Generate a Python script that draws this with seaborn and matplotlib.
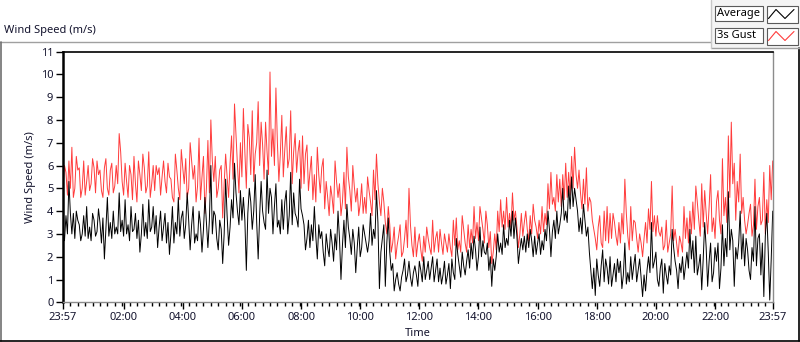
import numpy as np
import pandas as pd
import matplotlib
matplotlib.use('Agg')
import matplotlib.pyplot as plt
from matplotlib.lines import Line2D
from matplotlib.patches import Rectangle
import seaborn as sns


# =============================================================================
# Data
#   *_speed     : readings every 6 min from 23:57
#   *_speed_mid : readings taken 3 min after each of those
# =============================================================================
start_time = '2015-01-01 23:57'
step_min = 6

avg_speed = [
    3.2, 3.8, 5.3, 3.0, 2.8, 3.6, 2.7, 3.8, 4.2, 3.3, 3.9, 2.9, 4.1, 2.6, 1.9, 4.6,
    3.5, 4.0, 3.3, 4.8, 3.6, 4.5, 3.4, 4.2, 3.2, 2.8, 2.2, 4.3, 3.5, 4.5, 3.3,
    3.0, 2.4, 4.0, 3.3, 2.6, 2.1, 4.2, 3.5, 4.6, 3.7, 2.8, 4.8, 2.3, 4.2, 3.0,
    4.0, 2.2, 4.6, 2.4, 6.0, 4.0, 2.8, 3.6, 1.7, 5.4, 2.5, 4.5, 6.1, 4.0, 4.9,
    4.6, 1.4, 5.0, 3.2, 5.6, 1.9, 5.3, 3.5, 5.8, 5.0, 3.0, 5.2, 3.6, 4.5, 4.4, 3.0,
    5.7, 4.8, 3.7, 5.4, 3.8, 2.3, 3.6, 3.4, 4.2, 1.9, 2.8, 2.2, 3.0, 2.0, 2.6,
    3.0, 4.0, 1.0, 3.6, 4.3, 2.8, 3.2, 1.3, 3.3, 2.4, 3.0, 2.2, 3.9, 3.2, 4.9,
    0.6, 2.8, 0.7, 3.7, 1.4, 0.5, 1.3, 0.5, 1.4, 0.9, 1.8, 0.7, 1.6, 0.7, 1.4,
    2.0, 1.4, 1.0, 2.0, 1.4, 0.9, 0.8, 1.8, 1.2, 0.6, 1.3, 2.8, 1.6, 2.2, 1.2, 2.3,
    2.6, 2.9, 1.4, 3.3, 2.7, 2.1, 1.4, 0.7, 1.4, 3.0, 2.6, 3.4, 2.8, 3.6, 4.0,
    3.7, 1.7, 2.8, 2.9, 3.0, 3.2, 2.0, 2.1, 3.0, 2.7, 3.2, 4.0, 2.0, 3.6, 4.0,
    3.4, 5.0, 4.0, 5.1, 5.5, 5.0, 4.0, 3.7, 4.3, 2.9, 2.2, 0.6, 0.3, 1.2, 1.6,
    0.9, 1.5, 2.0, 1.2, 0.9, 1.3, 0.6, 2.6, 1.3, 2.0, 1.6, 0.9, 1.9, 0.25, 0.5, 2.0,
    3.5, 1.8, 1.0, 1.5, 0.4, 1.2, 1.6, 3.2, 1.8, 0.6, 1.3, 1.0, 2.2, 3.2, 2.7,
    2.9, 1.6, 0.55, 3.5, 0.7, 2.6, 1.3, 1.8, 0.6, 3.4, 2.8, 4.85, 3.2, 0.7, 1.9,
    4.0, 3.0, 2.8, 1.4, 2.4, 4.2, 2.8, 1.2, 0.25, 3.9, 0.1, 4.0,
]
avg_speed_mid = [
    2.7, 3.0, 3.9, 3.9, 4.0, 3.4, 3.0, 2.9, 2.8, 2.7, 3.6, 3.1, 3.5, 3.7, 3.2, 2.9,
    2.8, 3.0, 3.0, 3.1, 2.9, 3.0, 2.7, 3.1, 3.9, 3.6, 3.0, 2.9, 2.8, 3.1, 4.2,
    3.8, 3.3, 2.7, 3.9, 3.5, 3.0, 2.6, 3.0, 2.9, 4.0, 3.4, 3.6, 3.4, 2.6, 2.7,
    3.4, 3.2, 3.5, 3.6, 3.0, 3.8, 2.3, 3.2, 3.0, 3.8, 3.3, 3.7, 4.8, 3.4, 3.6,
    3.6, 3.9, 4.4, 4.0, 3.5, 3.8, 4.0, 3.2, 3.9, 4.6, 4.2, 3.3, 3.0, 3.2, 4.9, 3.8,
    3.4, 3.9, 3.3, 4.1, 3.4, 2.8, 2.4, 2.7, 2.9, 3.4, 3.1, 1.6, 2.4, 3.2, 1.8,
    2.3, 2.8, 2.5, 2.4, 3.3, 2.1, 2.6, 2.4, 2.0, 3.4, 2.6, 2.7, 2.5, 2.8, 3.5,
    2.2, 3.4, 2.6, 2.2, 1.7, 1.0, 0.8, 1.1, 1.9, 1.2, 1.1, 1.3, 1.2, 1.8, 0.9,
    1.0, 1.8, 1.5, 0.9, 1.9, 1.5, 1.2, 0.8, 1.7, 1.9, 1.0, 2.1, 1.1, 1.6, 1.8, 1.5,
    1.9, 2.3, 2.0, 2.0, 2.2, 2.6, 2.0, 1.9, 2.0, 2.2, 2.1, 2.4, 2.5, 2.9, 2.8,
    2.9, 2.3, 2.3, 2.2, 2.4, 2.7, 2.9, 2.6, 2.1, 2.3, 2.7, 3.2, 3.1, 2.8, 3.0,
    3.9, 3.6, 3.5, 4.1, 4.2, 4.5, 3.1, 3.0, 3.6, 3.3, 1.4, 1.5, 1.9, 0.7, 2.3,
    1.9, 0.8, 0.7, 1.7, 1.9, 1.8, 1.2, 0.8, 0.9, 1.0, 2.1, 1.4, 1.1, 1.2, 1.4, 1.3,
    1.5, 2.2, 0.7, 1.9, 1.7, 0.8, 1.2, 2.4, 1.4, 1.7, 2.0, 1.6, 1.5, 1.9, 1.3,
    1.2, 2.1, 1.9, 2.4, 1.8, 0.9, 2.4, 2.6, 1.5, 1.6, 2.0, 2.3, 2.7, 2.4, 2.6,
    1.9, 1.6, 2.3, 1.0, 1.8, 1.6, 3.0, 2.6, 2.9, 2.2, 1.9,
]

gust_speed = [
    5.0, 5.7, 6.2, 6.8, 5.0, 5.8, 4.6, 6.2, 5.3, 4.9, 6.3, 4.8, 5.6, 4.9, 5.9, 5.0,
    5.8, 4.8, 6.0, 7.4, 5.3, 6.1, 4.6, 5.6, 6.4, 4.4, 5.6, 6.5, 4.8, 6.6, 5.2,
    4.9, 5.6, 4.7, 6.2, 4.8, 5.5, 4.6, 6.5, 5.0, 6.7, 5.2, 4.6, 7.0, 5.4, 4.4,
    7.2, 5.5, 3.9, 7.1, 8.0, 5.3, 4.6, 5.8, 3.7, 6.5, 4.6, 7.3, 8.7, 6.0, 7.0,
    8.5, 5.0, 7.2, 8.4, 6.5, 8.8, 7.9, 5.4, 6.6, 10.1, 7.6, 9.4, 5.3, 8.2, 6.7, 5.9,
    8.4, 6.6, 5.7, 7.1, 7.3, 6.5, 4.9, 6.4, 5.6, 6.8, 4.8, 6.3, 5.3, 3.8, 4.6,
    6.2, 4.6, 3.8, 5.7, 6.8, 4.9, 6.0, 4.4, 3.8, 5.2, 4.6, 5.5, 4.4, 5.8, 6.5,
    4.4, 5.0, 3.5, 4.2, 2.2, 3.3, 2.5, 3.4, 2.2, 3.6, 5.0, 2.5, 3.3, 2.6, 2.3,
    2.9, 3.3, 2.4, 3.6, 2.8, 2.2, 2.6, 3.0, 2.2, 2.4, 3.6, 3.7, 2.7, 3.8, 2.6, 3.4,
    3.2, 4.2, 3.5, 4.2, 3.2, 4.0, 2.4, 1.7, 3.0, 4.0, 4.5, 4.0, 4.6, 3.9, 4.8,
    4.0, 2.4, 3.9, 3.5, 3.2, 3.8, 4.3, 3.3, 3.6, 4.2, 3.9, 5.2, 5.7, 4.6, 5.6,
    5.4, 5.6, 6.1, 5.7, 6.4, 6.8, 5.0, 4.8, 5.4, 5.9, 4.6, 3.6, 2.8, 3.3, 2.6,
    4.0, 4.2, 3.9, 3.9, 2.9, 3.5, 3.9, 5.4, 2.9, 4.2, 3.6, 2.8, 3.0, 2.0, 3.5, 4.1,
    5.3, 3.8, 3.8, 2.9, 2.3, 3.6, 2.6, 5.1, 3.2, 2.0, 2.6, 4.2, 3.7, 4.0, 4.4,
    5.1, 3.6, 5.2, 4.9, 3.0, 5.6, 3.7, 4.4, 3.6, 6.3, 4.6, 7.3, 7.9, 6.1, 5.3,
    6.5, 4.6, 3.0, 3.9, 2.9, 5.4, 4.2, 3.4, 5.7, 4.5, 6.0, 6.2,
]
gust_speed_mid = [
    6.0, 4.7, 5.0, 4.6, 6.4, 5.9, 5.0, 4.7, 6.0, 5.2, 5.9, 6.2, 5.8, 4.6, 6.3, 4.7,
    6.1, 5.1, 5.2, 6.6, 4.7, 5.3, 6.0, 4.5, 5.2, 6.2, 4.9, 5.9, 5.1, 4.6, 6.0,
    6.0, 5.9, 5.5, 5.3, 6.1, 5.4, 4.4, 5.8, 4.5, 5.9, 6.3, 5.0, 6.2, 6.0, 5.1,
    4.5, 6.4, 5.0, 4.8, 6.2, 6.4, 5.0, 6.0, 5.2, 5.5, 6.1, 5.4, 7.3, 4.8, 5.5,
    6.6, 7.8, 5.6, 5.3, 7.0, 6.0, 6.9, 7.9, 5.6, 6.4, 6.0, 7.0, 6.5, 5.5, 7.7, 6.3,
    5.2, 7.4, 6.6, 5.0, 5.2, 6.9, 5.7, 4.5, 4.4, 5.6, 5.9, 4.1, 4.6, 5.1, 3.9,
    5.3, 5.2, 4.4, 4.1, 5.5, 4.0, 5.1, 5.0, 4.3, 3.9, 3.9, 4.9, 3.8, 4.5, 5.2,
    3.8, 4.4, 3.0, 3.4, 2.6, 1.9, 2.9, 2.0, 2.8, 2.4, 3.4, 2.0, 2.0, 3.0, 1.8,
    2.2, 2.8, 2.1, 2.2, 3.1, 3.2, 2.1, 2.6, 3.0, 2.0, 2.5, 2.3, 2.2, 3.2, 2.2, 2.4,
    2.6, 2.8, 2.7, 3.7, 2.6, 3.4, 3.1, 2.2, 2.3, 3.1, 3.3, 3.2, 3.3, 3.3, 3.6,
    3.3, 3.0, 2.9, 4.0, 2.7, 3.0, 3.6, 2.8, 3.0, 3.1, 3.4, 4.1, 4.3, 4.0, 4.4,
    4.2, 4.5, 4.6, 4.7, 5.0, 5.6, 5.8, 4.1, 4.3, 4.0, 4.4, 3.2, 2.3, 3.8, 2.4,
    2.7, 2.6, 2.8, 3.5, 2.5, 2.6, 3.0, 3.9, 2.3, 2.7, 3.5, 2.2, 2.6, 2.8, 2.6, 3.2,
    3.1, 2.9, 3.1, 3.3, 2.5, 2.2, 3.0, 2.7, 2.6, 2.9, 2.2, 2.8, 2.6, 3.0, 3.2,
    4.4, 2.9, 3.3, 3.9, 4.2, 3.1, 2.8, 4.9, 3.0, 3.8, 3.5, 4.6, 5.2, 3.6, 4.4,
    3.9, 3.6, 3.4, 4.3, 3.4, 3.2, 4.6, 3.6, 3.0, 3.5, 4.5,
]

series_names = ['Average', '3s Gust']
series_colors = ['#000000', '#ff3c3c']
y_ticks = list(range(0, 12))
x_tick_labels = ['23:57', '02:00', '04:00', '06:00', '08:00', '10:00', '12:00',
                 '14:00', '16:00', '18:00', '20:00', '22:00', '23:57']

W, H = 800, 342
TXT = '#14142e'

avg_speed_mid[142] = 2.2
avg_speed_mid[154] = 2.3
avg_speed_mid[231] = 2.3


def fx(px):
    return px / W


def fy(py):
    return 1 - py / H


# =============================================================================
# Long-form frame
# =============================================================================
t_main = pd.date_range(start_time, periods=len(avg_speed), freq=f'{step_min}min')
t_mid = t_main[:-1] + pd.Timedelta(minutes=step_min // 2)

parts = []
for name, main, mid in [('Average', avg_speed, avg_speed_mid),
                        ('3s Gust', gust_speed, gust_speed_mid)]:
    parts.append(pd.DataFrame({'Time': t_main, 'Speed': main, 'Series': name}))
    parts.append(pd.DataFrame({'Time': t_mid, 'Speed': mid, 'Series': name}))
df = pd.concat(parts, ignore_index=True).sort_values(['Series', 'Time'])

sns.set_style('white')
plt.rcParams['font.family'] = ['Noto Sans', 'DejaVu Sans']
plt.rcParams['font.size'] = 8

fig = plt.figure(figsize=(W / 100, H / 100), dpi=100)
fig.patch.set_facecolor('white')
ax = fig.add_axes([fx(63), fy(302.3), fx(772.7 - 63), (302.3 - 51.5) / H])

sns.lineplot(data=df, x='Time', y='Speed', hue='Series',
             hue_order=['3s Gust', 'Average'],
             palette=dict(zip(series_names, series_colors)),
             estimator=None, sort=True, linewidth=0.7, legend=False, ax=ax)

# axes limits / ticks
t0 = pd.Timestamp(start_time)
t1 = t0 + pd.Timedelta(days=1)
ax.set_xlim(t0, t1)
ax.set_ylim(0, 11)
ax.set_yticks(y_ticks)
ax.set_yticklabels([str(v) for v in y_ticks], color=TXT)

day2 = t1.strftime('%Y-%m-%d')
xt = [t0] + [pd.Timestamp(f'{day2} {l}') for l in x_tick_labels[1:-1]] + [t1]
ax.set_xticks(xt)
ax.set_xticklabels(x_tick_labels, color=TXT)
ax.set_xticks(pd.date_range(t0, t1, freq='15min'), minor=True)

ax.tick_params(axis='y', which='major', length=5, width=1, pad=2,
               colors='black', labelcolor=TXT, labelsize=8, left=True)
ax.tick_params(axis='x', which='major', length=5, width=1, pad=2,
               colors='black', labelcolor=TXT, labelsize=8, bottom=True)
ax.tick_params(axis='x', which='minor', length=3, width=1, colors='black',
               bottom=True)

for side in ['top', 'left']:
    ax.spines[side].set_color('black')
ax.spines['left'].set_linewidth(1.8)
ax.spines['top'].set_linewidth(1.2)
for side in ['right', 'bottom']:
    ax.spines[side].set_color('#8c8c8c')
    ax.spines[side].set_linewidth(1.0)

ax.set_xlabel('Time', color=TXT, fontsize=8)
ax.xaxis.set_label_coords(0.5, -(334 - 302.3) / 250.8)
ax.xaxis.label.set_va('center')
ax.set_ylabel('Wind Speed (m/s)', color=TXT, fontsize=8)
ax.yaxis.set_label_coords((30 - 63) / 709.7, 0.5)
ax.yaxis.label.set_va('center')

# =============================================================================
# Panel decorations (chart frame, caption, legend)
# =============================================================================
fig.text(fx(4), fy(30), 'Wind Speed (m/s)', fontsize=8, color=TXT,
         ha='left', va='center')

fig.add_artist(Line2D([fx(0), fx(711)], [fy(42), fy(42)], color='#a0a0a0', lw=1))
fig.add_artist(Line2D([fx(0.5), fx(0.5)], [fy(42), fy(341)], color='#707070', lw=1.2))
fig.add_artist(Line2D([fx(0), fx(800)], [fy(340.6), fy(340.6)], color='black', lw=1.2))
fig.add_artist(Line2D([fx(799.2), fx(799.2)], [fy(48), fy(341)], color='black', lw=1.2))

# legend panel
fig.add_artist(Rectangle((fx(711), fy(48)), fx(89), 48 / H, facecolor='#f4f4f4',
                         edgecolor='none', transform=fig.transFigure))
fig.add_artist(Line2D([fx(711), fx(800)], [fy(48), fy(48)], color='#a0a0a0', lw=1))
fig.add_artist(Line2D([fx(711), fx(711)], [fy(0), fy(48)], color='#c8c8c8', lw=1))

for k, (name, col) in enumerate(zip(series_names, series_colors)):
    top = 5 + k * 22
    fig.add_artist(Rectangle((fx(714.5), fy(top + 16)), fx(48), 15 / H,
                             facecolor='white', edgecolor='#5a5a5a', lw=0.8,
                             transform=fig.transFigure))
    fig.text(fx(717), fy(top + 8.5), name, fontsize=8, color='black',
             ha='left', va='center')
    fig.add_artist(Rectangle((fx(766.5), fy(top + 17.5)), fx(31), 17 / H,
                             facecolor='white', edgecolor='#5a5a5a', lw=0.8,
                             transform=fig.transFigure))
    zx = [768.5, 776, 785, 794]
    zy = [top + 13.5, top + 4.5, top + 13.5, top + 4.5]
    fig.add_artist(Line2D([fx(v) for v in zx], [fy(v) for v in zy],
                          color=col, lw=0.8))

plt.savefig('out.png', dpi=100)
plt.close()
